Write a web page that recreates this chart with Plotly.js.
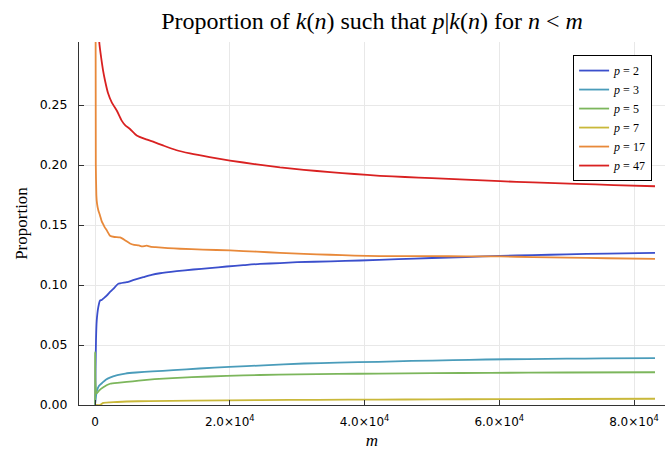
<!DOCTYPE html>
<html>
<head>
<meta charset="utf-8">
<script src="https://cdn.plot.ly/plotly-3.0.1.min.js"></script>
<style>html,body{margin:0;padding:0;background:#fff;}#chart{width:665px;height:450px;}</style>
</head>
<body>
<div id="chart"></div>
<script>
// Series labels and colours
const seriesLabels = ["<i>p</i> = 2", "<i>p</i> = 3", "<i>p</i> = 5", "<i>p</i> = 7", "<i>p</i> = 17", "<i>p</i> = 47"];
const seriesColors = ["#3b4fcc", "#4a9cba", "#7cb65c", "#c9b83a", "#e8893a", "#d92121"];

// p = 2
const m2 = [1, 20, 80, 148, 252, 490, 742, 1000, 1232, 1737, 2200, 2716, 3458, 4705, 5900, 7169, 8400, 9648, 12126, 14590, 17000, 19547, 22000, 24490, 27458, 30000, 35000, 39332, 45000, 50000, 55000, 60111, 65000, 70000, 76000, 83117];
const v2 = [0, 0.0, 0.030, 0.054, 0.070, 0.0815, 0.087, 0.0875, 0.0887, 0.0912, 0.0940, 0.0968, 0.1010, 0.1023, 0.1045, 0.1065, 0.1085, 0.1098, 0.1115, 0.1129, 0.1140, 0.1154, 0.1165, 0.1176, 0.1182, 0.1190, 0.1197, 0.1204, 0.1215, 0.1225, 0.1233, 0.1243, 0.1249, 0.1255, 0.1262, 0.1268];
// p = 3
const m3 = [1, 100, 267, 600, 1098, 1600, 2211, 3310, 4500, 6085, 8500, 11621, 15500, 19933, 25000, 31006, 36000, 42078, 47000, 53150, 58000, 64238, 70000, 75310, 83117];
const v3 = [0, 0.005, 0.0116, 0.016, 0.0186, 0.0210, 0.0228, 0.0248, 0.0262, 0.0271, 0.0280, 0.0290, 0.0304, 0.0318, 0.0330, 0.0346, 0.0353, 0.0360, 0.0367, 0.0374, 0.0379, 0.0383, 0.0386, 0.0388, 0.0391];
// p = 5
const m5 = [1, 5, 20, 60, 252, 600, 1232, 2226, 3310, 4705, 6500, 8846, 11500, 14382, 19547, 24490, 30000, 36000, 42078, 50000, 58686, 70000, 83117];
const v5 = [0, 0, 0.044, 0.020, 0.0096, 0.012, 0.0148, 0.0177, 0.0185, 0.0192, 0.0203, 0.0215, 0.0224, 0.0232, 0.0243, 0.0250, 0.0255, 0.0259, 0.0262, 0.0265, 0.0268, 0.0271, 0.0273];
// p = 7
const m7 = [1, 700, 1232, 2200, 3310, 4705, 8000, 14590, 24490, 33000, 42078, 50000, 60000, 70000, 83117];
const v7 = [0, 0, 0.0018, 0.0022, 0.0025, 0.0029, 0.0033, 0.0037, 0.0041, 0.0043, 0.0045, 0.0047, 0.0049, 0.0050, 0.0052];
// p = 17
const m17 = [40, 120, 200, 297, 500, 742, 1000, 1187, 1450, 1700, 2000, 2226, 2900, 3711, 4400, 5195, 5800, 6500, 7000, 7674, 8300, 9000, 10800, 12616, 16000, 20037, 24000, 27458, 31000, 34879, 38500, 42301, 46000, 50000, 55000, 60111, 65000, 70000, 76000, 83117];
const v17 = [0.5, 0.20, 0.175, 0.168, 0.162, 0.158, 0.153, 0.151, 0.148, 0.146, 0.143, 0.141, 0.1400, 0.1396, 0.1375, 0.1346, 0.1335, 0.1330, 0.1322, 0.1328, 0.1318, 0.1315, 0.1308, 0.1302, 0.1295, 0.1288, 0.1278, 0.1268, 0.1259, 0.1252, 0.1245, 0.1240, 0.1240, 0.1240, 0.1239, 0.1238, 0.1233, 0.1228, 0.1223, 0.1218];
// p = 47
const m47 = [300, 638, 900, 1187, 1500, 1929, 2500, 3265, 3963, 4500, 5195, 6189, 7500, 8800, 10093, 12000, 14100, 17000, 20037, 24000, 27458, 31000, 34879, 38500, 42301, 46000, 50000, 55000, 60111, 65000, 71495, 77000, 83117];
const v47 = [0.40, 0.302, 0.290, 0.279, 0.270, 0.260, 0.252, 0.245, 0.237, 0.233, 0.230, 0.2246, 0.2215, 0.2190, 0.2163, 0.2125, 0.2096, 0.2065, 0.2037, 0.2005, 0.1980, 0.1960, 0.1940, 0.1925, 0.1910, 0.1900, 0.1890, 0.1878, 0.1865, 0.1855, 0.1843, 0.1833, 0.1823];

// Tick labels
const xTickVals = [0, 20000, 40000, 60000, 80000];
const xTickText = ["0", "2.0&times;10<sup>4</sup>", "4.0&times;10<sup>4</sup>", "6.0&times;10<sup>4</sup>", "8.0&times;10<sup>4</sup>"];
const yTickVals = [0, 0.05, 0.10, 0.15, 0.20, 0.25];
const yTickText = ["0.00", "0.05", "0.10", "0.15", "0.20", "0.25"];

const xsAll = [m2, m3, m5, m7, m17, m47];
const ysAll = [v2, v3, v5, v7, v17, v47];

const traces = xsAll.map((xs, i) => ({
  x: xs, y: ysAll[i], type: 'scatter', mode: 'lines',
  name: seriesLabels[i],
  line: {color: seriesColors[i], width: 1.8, shape: 'spline', smoothing: 0.4},
  hoverinfo: 'skip'
}));

const serif = "Liberation Serif, DejaVu Serif, serif";
const sans = "DejaVu Sans, sans-serif";

const layout = {
  width: 665, height: 450,
  margin: {l: 79, r: 0, t: 42, b: 45, pad: 0},
  paper_bgcolor: '#ffffff', plot_bgcolor: '#ffffff',
  title: {
    text: "Proportion of <i>k</i>(<i>n</i>) such that <i>p</i>|<i>k</i>(<i>n</i>) for <i>n</i> &lt; <i>m</i>",
    font: {family: serif, size: 24, color: '#000'},
    x: 0.5, xref: 'paper', y: 1 - 21/450, yref: 'container', yanchor: 'middle'
  },
  xaxis: {
    range: [-2375, 84601], autorange: false,
    tickvals: xTickVals, ticktext: xTickText,
    ticks: 'inside', ticklen: 5, tickcolor: '#333', tickwidth: 1,
    showline: true, linecolor: '#333', linewidth: 1, mirror: false,
    showgrid: true, gridcolor: '#e8e8e8', gridwidth: 1, zeroline: false,
    tickfont: {family: sans, size: 12, color: '#000'},
    ticklabelstandoff: 6,
    title: {text: "<i>m</i>", font: {family: serif, size: 17, color: '#000'}, standoff: 7}
  },
  yaxis: {
    range: [0, 0.3025], autorange: false,
    tickvals: yTickVals, ticktext: yTickText,
    ticks: 'inside', ticklen: 5, tickcolor: '#333', tickwidth: 1,
    showline: true, linecolor: '#333', linewidth: 1, mirror: false,
    showgrid: true, gridcolor: '#e8e8e8', gridwidth: 1, zeroline: false,
    tickfont: {family: sans, size: 12.5, color: '#000'},
    ticklabelstandoff: 8,
    title: {text: "Proportion", font: {family: serif, size: 17, color: '#000'}, standoff: 7}
  },
  showlegend: true,
  legend: {
    x: 0.978, xanchor: 'right', y: 0.964, yanchor: 'top',
    bgcolor: '#ffffff', bordercolor: '#000', borderwidth: 1,
    font: {family: serif, size: 12, color: '#000'},
    tracegroupgap: 0
  }
};

Plotly.newPlot('chart', traces, layout, {displayModeBar: false, staticPlot: true});
</script>
</body>
</html>
